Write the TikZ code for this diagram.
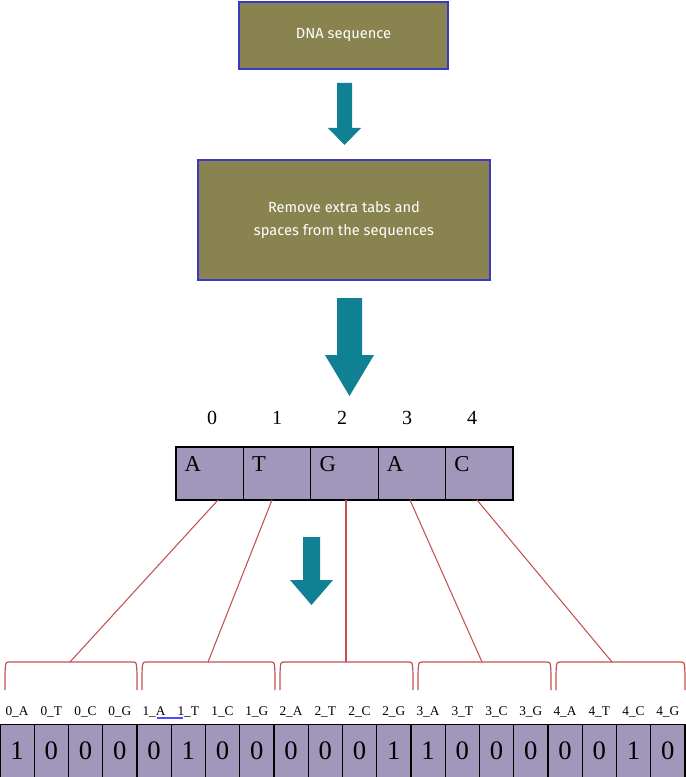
\documentclass[tikz,border=0pt]{standalone}
\usepackage{fontspec}
\setmainfont{Liberation Serif}
\newfontfamily\boxfont{Fira Sans}
\begin{document}
\begin{tikzpicture}[x=0.75pt,y=-0.75pt,
  olive/.style={draw=blue!55!gray,fill=oliveC,line width=0.8pt,font=\boxfont\fontsize{11}{17}\selectfont,text=white,align=center},
  cell/.style={draw=black,fill=purp,line width=0.8pt},
  bigarrow/.style={fill=tealC,draw=none},
  link/.style={draw=redC,line width=0.8pt}]
\definecolor{oliveC}{RGB}{137,131,80}
\definecolor{purp}{RGB}{161,151,187}
\definecolor{tealC}{RGB}{16,128,148}
\definecolor{redC}{RGB}{196,80,80}
\useasboundingbox (0,0) rectangle (685,777);
\node[olive,minimum width=209*0.75pt,minimum height=67*0.75pt] (b1) at (343.5,35.5) {DNA sequence};
\node[olive,minimum width=292*0.75pt,minimum height=120*0.75pt] (b2) at (344,220) {Remove extra tabs and\\spaces from the sequences};
\fill[tealC] (337,83) -- (352,83) -- (352,128) -- (361,128) -- (344.5,145) -- (328,128) -- (337,128) -- cycle;
\fill[tealC] (337,298) -- (362,298) -- (362,355) -- (374,355) -- (349.5,396) -- (325,355) -- (337,355) -- cycle;
\fill[tealC] (303,537) -- (320,537) -- (320,580) -- (333,580) -- (311.5,605) -- (290,580) -- (303,580) -- cycle;
\foreach \l [count=\i from 0] in {A,T,G,A,C}{
  \node[cell,minimum width=67.4*0.75pt,minimum height=53*0.75pt] (c\i) at ({176+33.7+67.4*\i},473.5) {};
  \node[anchor=west,font=\fontsize{17}{17}\selectfont] at ({176+67.4*\i+4},464) {\l};
  \node[font=\fontsize{15}{15}\selectfont] (n\i) at ({212+65*\i},418) {\i};
}
\foreach \i/\xl/\xr in {0/5/137,1/142/275,2/280/413,3/418/551,4/556/685}{
  \draw[redC,line width=0.9pt] (\xl,690) .. controls (\xl,662) .. (\xl+4,662) -- (\xr-4,662) .. controls (\xr,662) .. (\xr,690);
}
\coordinate (p0) at (70,662); \coordinate (p1) at (208,662); \coordinate (p2) at (346,662);
\coordinate (p3) at (482,662); \coordinate (p4) at (612,662);
\coordinate (s0) at (218,500); \coordinate (s1) at (272,500); \coordinate (s2) at (346,500);
\coordinate (s3) at (410,500); \coordinate (s4) at (477,500);
\foreach \i in {0,...,4} \draw[link] (s\i) -- (p\i);
\foreach \t [count=\i from 0] in {0\_A,0\_T,0\_C,0\_G,1\_A,1\_T,1\_C,1\_G,2\_A,2\_T,2\_C,2\_G,3\_A,3\_T,3\_C,3\_G,4\_A,4\_T,4\_C,4\_G}{
  \node[font=\fontsize{10}{10}\selectfont,inner sep=0pt] at ({17+34.25*\i},712) {\t};
}
\draw[blue!70,line width=1pt] (157,718) -- (183,718);
\foreach \v [count=\i from 0] in {1,0,0,0,0,1,0,0,0,0,0,1,1,0,0,0,0,0,1,0}{
  \node[cell,minimum width=34.25*0.75pt,minimum height=53*0.75pt,font=\fontsize{20}{20}\selectfont] (d\i) at ({17.1+34.25*\i},751) {\v};
}
\end{tikzpicture}
\end{document}
